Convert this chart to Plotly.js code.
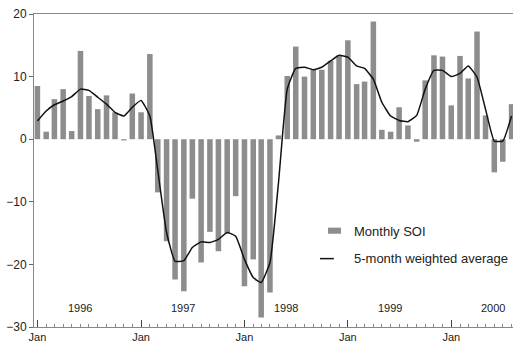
<!DOCTYPE html>
<html>
<head>
<meta charset="utf-8">
<script src="https://cdn.plot.ly/plotly-3.0.1.min.js"></script>
<style>
  html, body { margin: 0; padding: 0; background: #fff; }
  #chart { width: 513px; height: 344px; }
</style>
</head>
<body>
<div id="chart"></div>
<script>
// Months, Jan 1996 .. Aug 2000
const months = [
  '1996-01','1996-02','1996-03','1996-04','1996-05','1996-06','1996-07','1996-08','1996-09','1996-10','1996-11','1996-12',
  '1997-01','1997-02','1997-03','1997-04','1997-05','1997-06','1997-07','1997-08','1997-09','1997-10','1997-11','1997-12',
  '1998-01','1998-02','1998-03','1998-04','1998-05','1998-06','1998-07','1998-08','1998-09','1998-10','1998-11','1998-12',
  '1999-01','1999-02','1999-03','1999-04','1999-05','1999-06','1999-07','1999-08','1999-09','1999-10','1999-11','1999-12',
  '2000-01','2000-02','2000-03','2000-04','2000-05','2000-06','2000-07','2000-08'
];

// Monthly SOI (bars)
const monthlySOI = [
  8.5, 1.2, 6.4, 8.0, 1.3, 14.1, 6.9, 4.8, 7.0, 4.3, -0.2, 7.3,
  4.3, 13.6, -8.5, -16.3, -22.4, -24.3, -9.5, -19.7, -14.8, -17.9, -15.1, -9.1,
  -23.5, -19.2, -28.5, -24.5, 0.6, 10.1, 14.8, 10.0, 11.2, 11.1, 12.5, 13.4,
  15.8, 8.8, 9.2, 18.8, 1.5, 1.2, 5.1, 2.2, -0.4, 9.4, 13.4, 13.2,
  5.4, 13.3, 9.7, 17.2, 3.8, -5.3, -3.6, 5.6
];

// 5-month weighted average (line)
const weightedAvg = [
  2.9, 4.5, 5.5, 6.1, 6.8, 8.0, 7.8, 6.7, 5.6, 4.3, 3.7, 5.1,
  6.2, 3.7, -5.0, -14.9, -19.5, -19.4, -17.3, -16.4, -16.5, -16.0, -14.9, -15.5,
  -19.2, -22.1, -22.9, -19.7, -7.0, 8.0, 11.3, 11.5, 11.1, 11.5, 12.5, 13.4,
  13.1, 11.7, 11.3, 9.6, 5.9, 3.7, 3.0, 2.8, 3.8, 8.0, 11.0, 11.0,
  10.0, 10.5, 11.7, 9.9, 4.8, -0.3, -0.3, 3.7
];

// Year labels
const yearLabels = ['1996', '1997', '1998', '1999', '2000'];
const yearLabelX = ['1996-05-29', '1997-05-29', '1998-05-29', '1999-05-29', '2000-05-29'];

// Legend labels
const seriesNames = ['Monthly SOI', '5-month weighted average'];

const FONT = 'Liberation Sans, Arial, Helvetica, sans-serif';
const DAY = 86400000;

const traces = [
  {
    type: 'bar',
    x: months,
    y: monthlySOI,
    name: seriesNames[0],
    width: 19.5 * DAY,
    marker: { color: '#8d8d8d', line: { width: 0 } },
    showlegend: false,
    hoverinfo: 'x+y'
  },
  {
    type: 'scatter',
    mode: 'lines',
    x: months,
    y: weightedAvg,
    name: seriesNames[1],
    line: { color: '#111', width: 1.5, shape: 'spline', smoothing: 0.4 },
    showlegend: false
  }
];

const annotations = yearLabels.map((t, i) => ({
  x: yearLabelX[i], y: -27, xref: 'x', yref: 'y',
  text: t, showarrow: false,
  font: { family: FONT, size: 11, color: '#222' },
  xanchor: 'center', yanchor: 'middle'
}));

// manual legend text
annotations.push({
  x: 0.664, y: 0.3056, xref: 'paper', yref: 'paper',
  text: seriesNames[0], showarrow: false,
  font: { family: FONT, size: 13, color: '#222' },
  xanchor: 'left', yanchor: 'middle'
});
annotations.push({
  x: 0.664, y: 0.2185, xref: 'paper', yref: 'paper',
  text: seriesNames[1], showarrow: false,
  font: { family: FONT, size: 13, color: '#222' },
  xanchor: 'left', yanchor: 'middle'
});

const shapes = [
  { type: 'rect', xref: 'paper', yref: 'paper',
    x0: 0.6138, x1: 0.6409, y0: 0.298, y1: 0.3174,
    fillcolor: '#8d8d8d', line: { width: 0 } },
  { type: 'line', xref: 'paper', yref: 'paper',
    x0: 0.597, x1: 0.626, y0: 0.2185, y1: 0.2185,
    line: { color: '#111', width: 1.5 } }
];

const layout = {
  width: 513,
  height: 344,
  margin: { l: 34, r: 0, t: 14, b: 17, pad: 0 },
  paper_bgcolor: '#fff',
  plot_bgcolor: '#fff',
  showlegend: false,
  bargap: 0.36,
  font: { family: FONT, size: 11, color: '#222' },
  xaxis: {
    type: 'date',
    range: ['1995-12-20', '2000-08-06'],
    tick0: '1996-01-01',
    dtick: 'M12',
    tickformat: '%b',
    ticks: 'inside',
    ticklen: 7,
    tickwidth: 1,
    tickcolor: '#444',
    minor: { dtick: 'M1', ticks: 'inside', ticklen: 3, tickcolor: '#888', showgrid: false },
    showline: true,
    linecolor: '#888',
    linewidth: 1,
    mirror: true,
    showgrid: false,
    zeroline: false,
    automargin: false,
    tickfont: { family: FONT, size: 11, color: '#222' }
  },
  yaxis: {
    range: [-30, 20],
    tick0: 0,
    dtick: 10,
    ticks: 'outside',
    ticklen: 4,
    tickcolor: '#666',
    showline: true,
    linecolor: '#888',
    linewidth: 1,
    showgrid: false,
    zeroline: false,
    automargin: false,
    tickfont: { family: FONT, size: 12, color: '#222' }
  },
  annotations: annotations,
  shapes: shapes
};

Plotly.newPlot('chart', traces, layout, { staticPlot: true, displayModeBar: false });
</script>
</body>
</html>
